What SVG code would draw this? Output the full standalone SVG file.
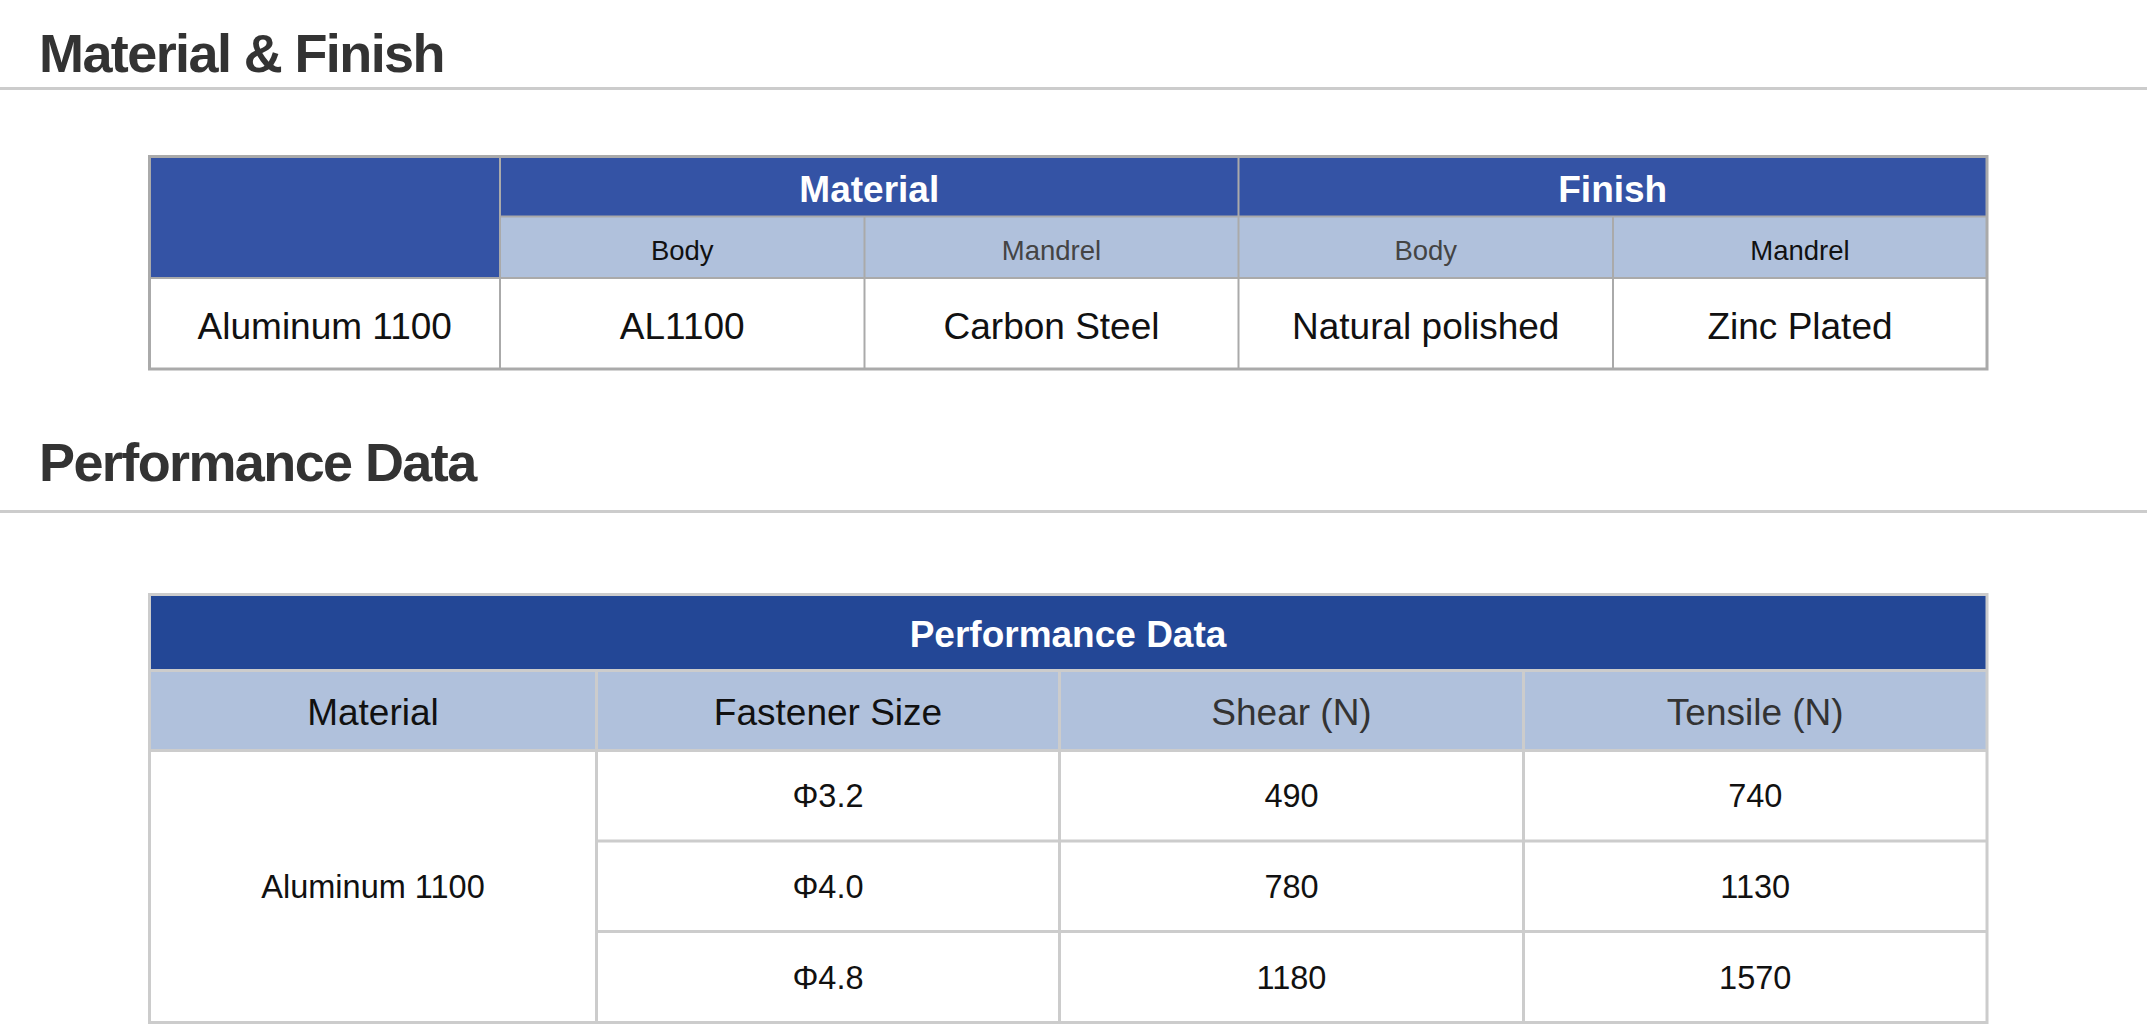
<svg xmlns="http://www.w3.org/2000/svg" width="2147" height="1026" viewBox="0 0 2147 1026">
<style>
text{font-family:"Liberation Sans",Arial,Helvetica,sans-serif;text-anchor:middle}
.title{font-size:54px;font-weight:bold;fill:#333;text-anchor:start;letter-spacing:-1.6px}
.hd{font-size:37px;font-weight:bold;fill:#fff}
.sub{font-size:27.5px;fill:#111}
.subg{font-size:27.5px;fill:#444}
.d1{font-size:37px;fill:#111}
.h2{font-size:37px;fill:#111}
.h2g{font-size:37px;fill:#333}
.d2{font-size:32.5px;fill:#111}
.rule{stroke:#cccccc;stroke-width:3}
.g1{stroke:#aaaaaa;stroke-width:2;fill:none}
.o1{stroke:#aaaaaa;stroke-width:3;fill:none}
.g2{stroke:#cccccc;stroke-width:3;fill:none}
</style>
<rect width="2147" height="1026" fill="#fff"/>
<g id="section1">
<text class="title" x="39" y="72">Material &amp; Finish</text>
<line class="rule" x1="0" y1="88.5" x2="2147" y2="88.5"/>
</g>
<g id="table1">
<rect x="149.5" y="156.5" width="350.5" height="121.5" fill="#3453a5"/>
<rect x="500" y="156.5" width="1487" height="60" fill="#3453a5"/>
<rect x="500" y="216.5" width="1487" height="61.5" fill="#b0c1dc"/>
<rect x="149.5" y="278" width="1837.5" height="91" fill="#fff"/>
<g id="t1grid">
<line class="g1" x1="500" y1="216.5" x2="1987" y2="216.5"/>
<line class="g1" x1="149.5" y1="278" x2="1987" y2="278"/>
<line class="g1" x1="500" y1="156.5" x2="500" y2="369"/>
<line class="g1" x1="864.5" y1="216.5" x2="864.5" y2="369"/>
<line class="g1" x1="1238.5" y1="156.5" x2="1238.5" y2="369"/>
<line class="g1" x1="1613" y1="216.5" x2="1613" y2="369"/>
<rect class="o1" x="149.5" y="156.5" width="1837.5" height="212.5"/>
</g>
<text class="hd" x="869.25" y="202">Material</text>
<text class="hd" x="1612.75" y="202">Finish</text>
<text class="sub" x="682.25" y="259.5">Body</text>
<text class="subg" x="1051.5" y="259.5">Mandrel</text>
<text class="subg" x="1425.75" y="259.5">Body</text>
<text class="sub" x="1800" y="259.5">Mandrel</text>
<text class="d1" x="324.75" y="338.5">Aluminum 1100</text>
<text class="d1" x="682.25" y="338.5">AL1100</text>
<text class="d1" x="1051.5" y="338.5">Carbon Steel</text>
<text class="d1" x="1425.75" y="338.5">Natural polished</text>
<text class="d1" x="1800" y="338.5">Zinc Plated</text>
</g>
<g id="section2">
<text class="title" x="39" y="481">Performance Data</text>
<line class="rule" x1="0" y1="511.5" x2="2147" y2="511.5"/>
</g>
<g id="table2">
<rect x="149.5" y="594.5" width="1837.5" height="76" fill="#234796"/>
<rect x="149.5" y="670.5" width="1837.5" height="80" fill="#b0c1dc"/>
<rect x="149.5" y="750.5" width="1837.5" height="272" fill="#fff"/>
<g id="t2grid">
<line class="g2" x1="149.5" y1="670.5" x2="1987" y2="670.5"/>
<line class="g2" x1="149.5" y1="750.5" x2="1987" y2="750.5"/>
<line class="g2" x1="596.5" y1="841" x2="1987" y2="841"/>
<line class="g2" x1="596.5" y1="931.5" x2="1987" y2="931.5"/>
<line class="g2" x1="596.5" y1="670.5" x2="596.5" y2="1022.5"/>
<line class="g2" x1="1059.5" y1="670.5" x2="1059.5" y2="1022.5"/>
<line class="g2" x1="1523.5" y1="670.5" x2="1523.5" y2="1022.5"/>
<rect class="g2" x="149.5" y="594.5" width="1837.5" height="428"/>
</g>
<text class="hd" x="1068" y="647">Performance Data</text>
<text class="h2" x="373" y="725">Material</text>
<text class="h2" x="828" y="725">Fastener Size</text>
<text class="h2g" x="1291.5" y="725">Shear (N)</text>
<text class="h2g" x="1755.25" y="725">Tensile (N)</text>
<text class="d2" x="373" y="898">Aluminum 1100</text>
<text class="d2" x="828" y="807">Φ3.2</text>
<text class="d2" x="1291.5" y="807">490</text>
<text class="d2" x="1755.25" y="807">740</text>
<text class="d2" x="828" y="898">Φ4.0</text>
<text class="d2" x="1291.5" y="898">780</text>
<text class="d2" x="1755.25" y="898">1130</text>
<text class="d2" x="828" y="988.5">Φ4.8</text>
<text class="d2" x="1291.5" y="988.5">1180</text>
<text class="d2" x="1755.25" y="988.5">1570</text>
</g>
</svg>
